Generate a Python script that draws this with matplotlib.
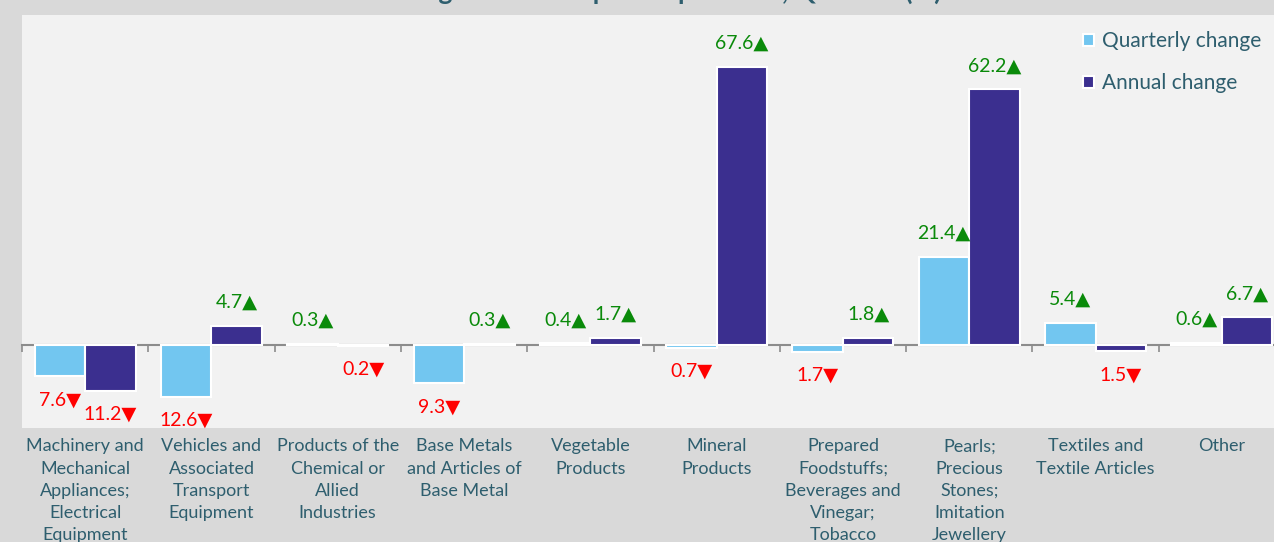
import matplotlib
matplotlib.use("Agg")
import matplotlib.pyplot as plt
import numpy as np

# data
categories = [
    "Machinery and\nMechanical\nAppliances;\nElectrical\nEquipment",
    "Vehicles and\nAssociated\nTransport\nEquipment",
    "Products of the\nChemical or\nAllied\nIndustries",
    "Base Metals\nand Articles of\nBase Metal",
    "Vegetable\nProducts",
    "Mineral\nProducts",
    "Prepared\nFoodstuffs;\nBeverages and\nVinegar;\nTobacco",
    "Pearls;\nPrecious\nStones;\nImitation\nJewellery",
    "Textiles and\nTextile Articles",
    "Other",
]
quarterly = [-7.6, -12.6, 0.3, -9.3, 0.4, -0.7, -1.7, 21.4, 5.4, 0.6]
annual = [-11.2, 4.7, -0.2, 0.3, 1.7, 67.6, 1.8, 62.2, -1.5, 6.7]
series_names = ["Quarterly change", "Annual change"]
title = "Change in main imported products, Q4 2024 (%)"

C_Q = "#72C6F0"
C_A = "#3B2F8F"
TEXT = "#2E5E6E"
UP = "#0A8A0A"
DOWN = "#FF0000"

plt.rcParams["font.family"] = ["Lato", "DejaVu Sans"]

W, H = 1274, 542
fig = plt.figure(figsize=(W / 100, H / 100), dpi=100, facecolor="#d9d9d9")
# plot area runs past the right edge of the picture, as in the source
ax = fig.add_axes([22 / W, (H - 428) / H, 1263 / W, (428 - 15) / H])
ax.set_facecolor("#f2f2f2")

x = np.arange(len(categories))
w = 0.4
b1 = ax.bar(x - w / 2, quarterly, w, color=C_Q, edgecolor="white", linewidth=1.5,
            label=series_names[0], zorder=2)
b2 = ax.bar(x + w / 2, annual, w, color=C_A, edgecolor="white", linewidth=1.5,
            label=series_names[1], zorder=2)

for bars, vals in [(b1, quarterly), (b2, annual)]:
    for rect, v in zip(bars, vals):
        cx = rect.get_x() + rect.get_width() / 2
        if v >= 0:
            s, col, off = f"{abs(v):.1f}\u25B2", UP, 17
        else:
            s, col, off = f"{abs(v):.1f}\u25BC", DOWN, -17
        ax.annotate(s, (cx, v), xytext=(0, off), textcoords="offset points",
                    ha="center", va="center", color=col, fontsize=14, zorder=3)

ax.set_xlim(-0.5, len(categories) - 0.5)
ax.set_ylim(-20.2, 80.3)

for sp in ["top", "right", "left"]:
    ax.spines[sp].set_visible(False)
ax.spines["bottom"].set_position(("data", 0))
ax.spines["bottom"].set_color("#8c8c8c")
ax.spines["bottom"].set_linewidth(1.5)
ax.spines["bottom"].set_zorder(1)
ax.set_yticks([])
ax.set_xticks(np.arange(len(categories) + 1) - 0.5)
ax.tick_params(axis="x", direction="out", length=5, width=1.2, color="#8c8c8c",
               labelbottom=False)

for xi, lab in zip(x, categories):
    ax.annotate(lab, (xi, 0), xycoords=("data", "axes fraction"),
                xytext=(0, -7.5), textcoords="offset points",
                ha="center", va="top", color=TEXT, fontsize=13, linespacing=1.47)

leg = ax.legend(loc="upper right", frameon=False, fontsize=15, labelcolor=TEXT,
                handlelength=0.55, handleheight=0.55, handletextpad=0.4,
                labelspacing=1.05, borderaxespad=0.0,
                bbox_to_anchor=(1270 / W, 1 - 23 / H), bbox_transform=fig.transFigure)

# title sits almost entirely above the top edge, only descenders show
fig.text(660 / W, 1.0, title, ha="center", va="baseline", color=TEXT,
         fontsize=19, fontweight="bold")

fig.savefig("out.png", dpi=100, facecolor=fig.get_facecolor())
